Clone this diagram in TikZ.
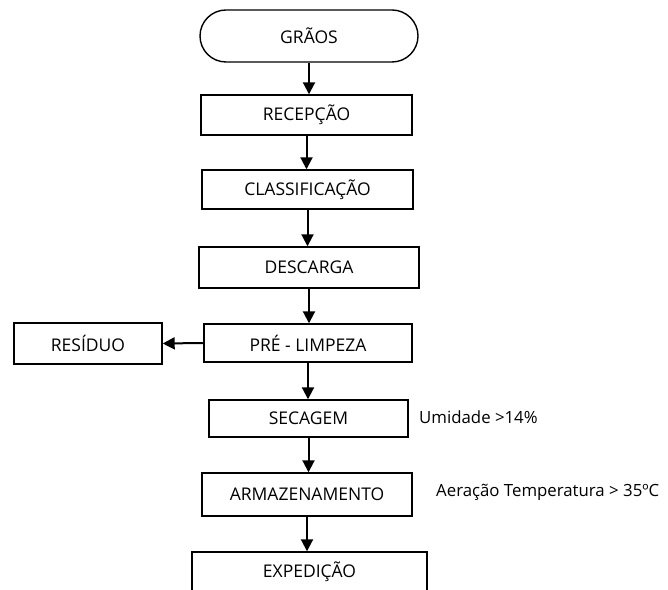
\documentclass[tikz,border=0pt]{standalone}
\usepackage{fontspec}
\setmainfont{Open Sans}
\usetikzlibrary{arrows.meta,shapes.misc}

\tikzset{
  etapa/.style={draw, rectangle, line width=1.4pt, inner sep=0pt,
    font=\fontsize{17.5}{20}\selectfont},
  inicio/.style={draw, rounded rectangle, line width=1.4pt, inner sep=0pt,
    font=\fontsize{17.5}{20}\selectfont},
  fluxo/.style={line width=2pt, -{Triangle[width=12pt,length=12pt]}},
  nota/.style={anchor=west, inner sep=0pt, font=\fontsize{16.8}{19}\selectfont}
}

\begin{document}
\begin{tikzpicture}[x=1pt,y=1pt]
\useasboundingbox (0,0) rectangle (668,589);
\clip (0,0) rectangle (668,589);

% etapas do processo
\node[inicio, minimum width=218pt, minimum height=52pt] (graos) at (309,553) {GRÃOS};
\node[etapa, minimum width=211pt, minimum height=40pt] (recepcao) at (306.5,474) {RECEPÇÃO};
\node[etapa, minimum width=211pt, minimum height=39pt] (classif) at (307.5,399.5) {CLASSIFICAÇÃO};
\node[etapa, minimum width=220pt, minimum height=41pt] (descarga) at (309,321.5) {DESCARGA};
\node[etapa, minimum width=208pt, minimum height=38pt] (limpeza) at (308,246) {PRÉ - LIMPEZA};
\node[etapa, minimum width=148pt, minimum height=41pt] (residuo) at (88,245.5) {RESÍDUO};
\node[etapa, minimum width=199pt, minimum height=37pt] (secagem) at (308.5,170.5) {SECAGEM};
\node[etapa, minimum width=210pt, minimum height=43pt] (armaz) at (307,94.5) {ARMAZENAMENTO};
\node[etapa, minimum width=235pt, minimum height=50pt, text depth=14pt] (expedicao) at (309.5,12) {EXPEDIÇÃO};

% observacoes
\node[nota] (umidade) at (419,172) {Umidade >14\%};
\node[nota] (aeracao) at (436,97) {Aeração Temperatura > 35ºC};

% setas
\draw[fluxo] (graos.south) -- (graos.south |- recepcao.north);
\draw[fluxo] (recepcao.south) -- (recepcao.south |- classif.north);
\draw[fluxo] (classif.south) -- (classif.south |- descarga.north);
\draw[fluxo] (descarga.south) -- (descarga.south |- limpeza.north);
\draw[fluxo] (limpeza.west) -- (residuo.east);
\draw[fluxo] (limpeza.south) -- (limpeza.south |- secagem.north);
\draw[fluxo] (secagem.south) -- (secagem.south |- armaz.north);
\draw[fluxo] (armaz.south) -- (armaz.south |- expedicao.north);
\end{tikzpicture}
\end{document}
